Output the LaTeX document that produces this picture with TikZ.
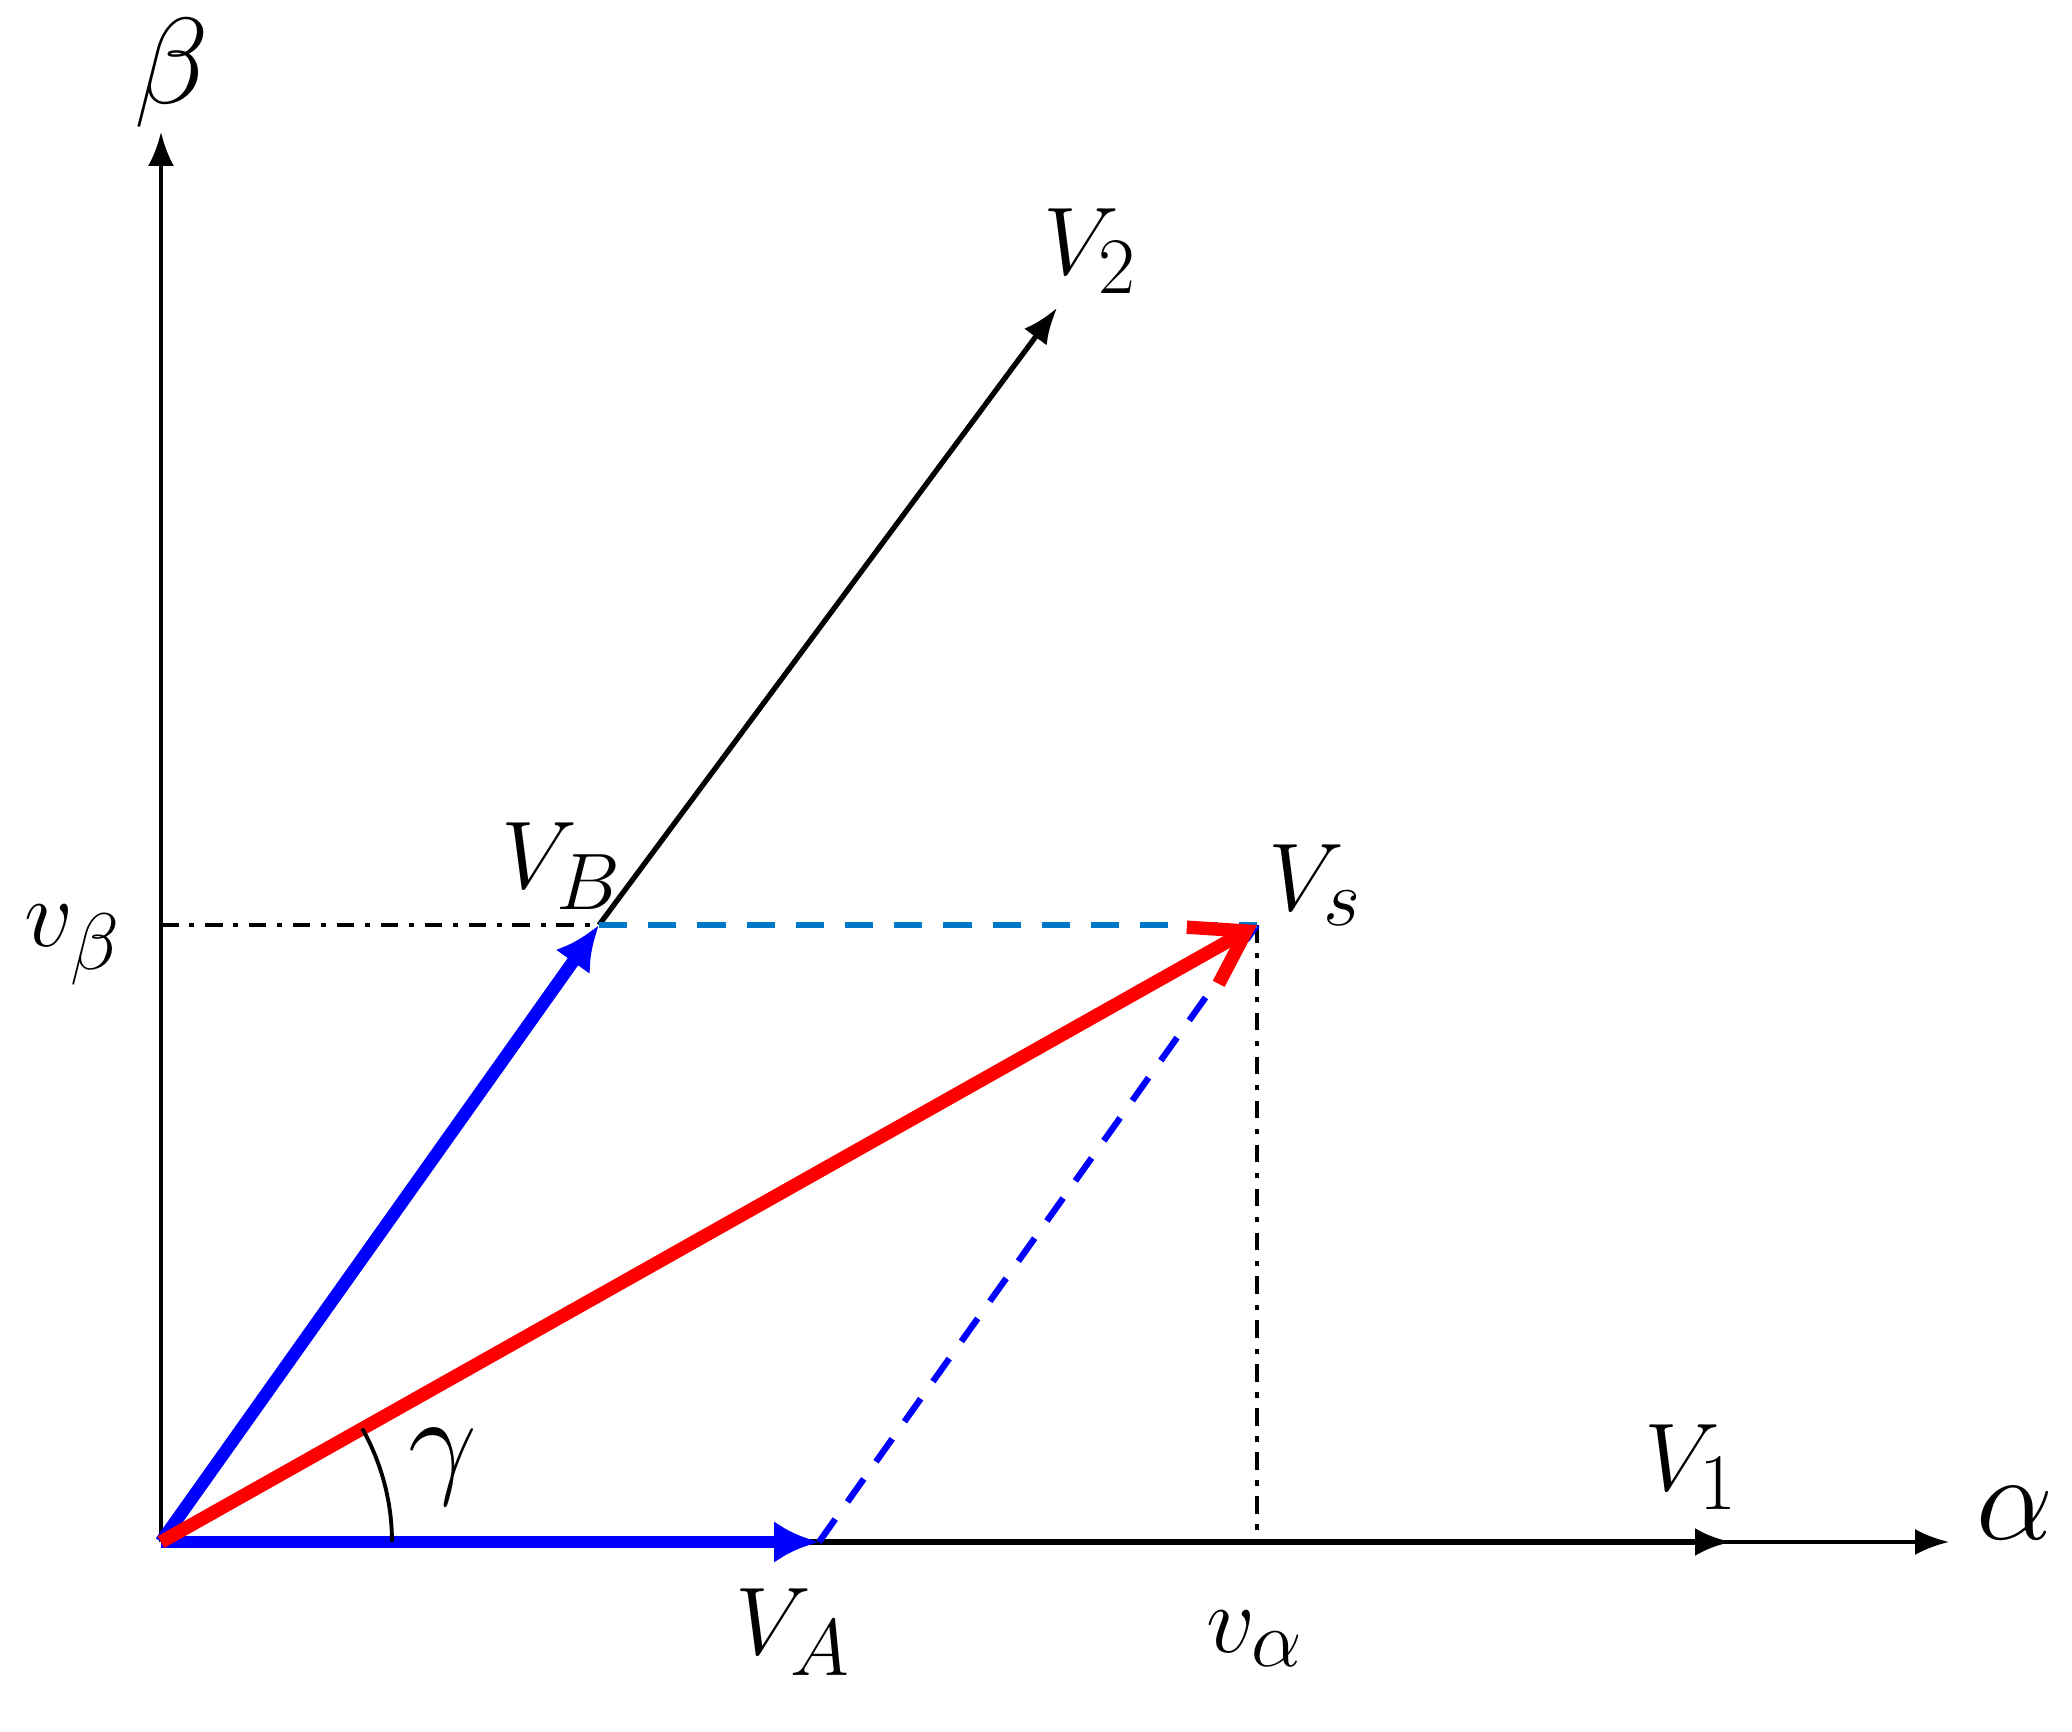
\documentclass[tikz,border=0pt]{standalone}
\usepackage{tikz}
\usetikzlibrary{arrows.meta}
\definecolor{lightblue}{RGB}{0,120,200}

\begin{document}
\begin{tikzpicture}[font=\fontsize{24.88}{30}\selectfont,
  axisline/.style={line width=1.1pt,-{Latex[length=3.4mm,width=2.6mm]}},
  basevec/.style={line width=1.8pt,-{Latex[length=3.6mm,width=2.8mm]}},
  bluevec/.style={blue,line width=3.6pt,-{Latex[length=4.5mm,width=4.2mm]}},
  redvec/.style={red,line width=3.8pt,-{Straight Barb[length=5mm,width=6.5mm]}},
  projline/.style={line width=1.1pt,dash pattern=on 5pt off 3pt on 1.5pt off 3pt},
  sumline/.style={line width=1.8pt,dash pattern=on 8pt off 6pt},
  veclabel/.style={scale=1.1},
  greeklabel/.style={scale=1.4}]
\useasboundingbox (-1.61,-1.90) rectangle (19.11,15.42);
\coordinate (O) at (0,0);
\coordinate (Aend) at (17.88,0);
\coordinate (Bend) at (0,14.10);
\coordinate (V1) at (15.70,0);
\coordinate (V2) at (8.96,12.34);
\coordinate (VA) at (6.58,0);
\coordinate (VB) at (4.38,6.17);
\coordinate (Vs) at (10.96,6.17);
\coordinate (Va) at (Vs |- O);
\coordinate (Vb) at (VB -| O);
% axes and basic vectors
\draw[axisline] (O) -- (Aend);
\draw[axisline] (O) -- (Bend);
\draw[basevec] (O) -- (V1);
\draw[line width=1.5pt,-{Latex[length=3.6mm,width=2.8mm]}] (VB) -- (V2);
% projections
\draw[projline] (Vb) -- (VB);
\draw[projline] (Vs) -- (Va);
\draw[sumline,blue] (VA) -- (Vs);
\draw[sumline,lightblue] (VB) -- (Vs);
% components and resulting vector
\draw[bluevec] (O) -- (VB);
\draw[bluevec] (O) -- (VA);
\draw[redvec] (O) -- (Vs);
\draw[line width=1.1pt] (2.31,0) arc (0:29.4:2.31);
% labels
\node[greeklabel] (alpha) at (18.54,0.29) {$\alpha$};
\node[greeklabel] (beta) at (0.11,14.69) {$\beta$};
\node[veclabel] (v1lab) at (15.30,0.75) {$V_1$};
\node[veclabel] (v2lab) at (9.29,12.91) {$V_2$};
\node[veclabel] (vblab) at (4.01,6.76) {$V_B$};
\node[veclabel] (vslab) at (11.54,6.57) {$V_s$};
\node[veclabel] (valab) at (6.32,-0.90) {$V_A$};
\node[veclabel] (valpha) at (10.94,-0.97) {$v_\alpha$};
\node[veclabel] (vbeta) at (-0.88,5.97) {$v_\beta$};
\node[greeklabel] (gamma) at (2.82,0.75) {$\gamma$};
\end{tikzpicture}
\end{document}
